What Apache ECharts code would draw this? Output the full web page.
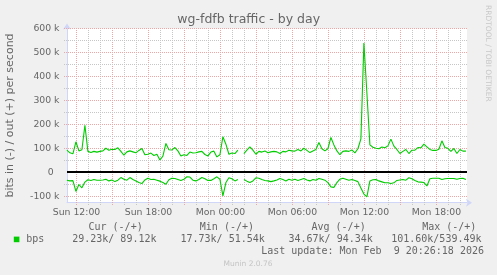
<!DOCTYPE html>
<html>
<head>
<meta charset="utf-8">
<script src="https://cdn.jsdelivr.net/npm/echarts@6/dist/echarts.min.js"></script>
<style>
html,body{margin:0;padding:0;background:#F0F0F0;}
#c{width:497px;height:275px;}
</style>
</head>
<body>
<div id="c"></div>
<script>
// ---- data (values in k bits/s) ----
const sampleStartHour = 11.2;   // hours since Sun 00:00
const sampleStepHour = 0.25;    // 15 minute samples
const outValues = [
  93, 82, 78, 128, 90, 95, 197, 88, 83, 88,
  85, 88, 90, 101, 93, 97, 96, 103, 88, 72,
  86, 90, 86, 82, 92, 100, 74, 76, 81, 71,
  76, 52, 68, 121, 95, 94, 104, 90, 69, 74,
  71, 85, 81, 82, 86, 88, 75, 69, 85, 89,
  65, 74, 149, 118, 76, 81, 79, 93, null, 79,
  93, 107, 93, 76, 88, 85, 90, 82, 86, 88,
  86, 79, 88, 86, 93, 90, 89, 96, 90, 101,
  92, 83, 90, 96, 125, 99, 90, 99, 146, 115,
  90, 74, 88, 90, 88, 94, 82, 99, 140, 539.49,
  330, 115, 105, 101, 99, 106, 103, 111, 139, 110,
  96, 79, 88, 96, 79, 93, 93, 104, 103, 118,
  107, 96, 92, 92, 97, 132, 104, 101, 88, 100,
  79, 96, 89, 89.12
];
const inValues = [
  -32, -35, -34, -79, -50, -64, -40, -30, -33, -29,
  -32, -32, -31, -28, -35, -31, -38, -32, -21, -28,
  -32, -21, -29, -35, -42, -46, -31, -24, -29, -28,
  -32, -36, -42, -49, -30, -24, -25, -29, -33, -28,
  -17.73, -19, -32, -35, -29, -21, -26, -33, -33, -26,
  -18, -28, -97, -42, -22, -26, -35, -29, null, -29,
  -36, -42, -35, -22, -24, -29, -33, -35, -38, -35,
  -31, -25, -29, -35, -28, -32, -28, -33, -29, -25,
  -31, -35, -29, -32, -25, -28, -32, -42, -60, -62,
  -42, -28, -24, -28, -32, -29, -33, -38, -65, -90,
  -101.6, -35, -30, -29, -35, -39, -43, -43, -46, -43,
  -33, -31, -29, -32, -22, -26, -33, -39, -40, -42,
  -56, -26, -24, -24, -24, -29, -26, -25, -25, -25,
  -28, -25, -24, -29.23
];
const xTickHours = [12, 18, 24, 30, 36, 42];
const xTickLabels = ['Sun 12:00', 'Sun 18:00', 'Mon 00:00', 'Mon 06:00', 'Mon 12:00', 'Mon 18:00'];
const yTickValues = [-100, 0, 100, 200, 300, 400, 500, 600];
const yTickLabels = ['-100 k', '0  ', '100 k', '200 k', '300 k', '400 k', '500 k', '600 k'];
const minorGridHours = [13,14,16,17,19,20,22,23,25,26,28,29,31,32,34,35,37,38,40,41,43,44];
const majorGridHours = [12,15,18,21,24,27,30,33,36,39,42];
const minorGridValues = [-50,50,150,250,350,450,550];
const majorGridValues = [-100,100,200,300,400,500,600];
const legendHeaders = ['Cur (-/+)', 'Min (-/+)', 'Avg (-/+)', 'Max (-/+)'];
const legendStats = ['29.23k/ 89.12k', '17.73k/ 51.54k', '34.67k/ 94.34k', '101.60k/539.49k'];
const seriesName = 'bps';
const lastUpdate = 'Last update: Mon Feb  9 20:26:18 2026';

// ---- build ----
const X_MIN = 11.2083333, X_MAX = 44.5416667;
const Y_MIN = -125.8, Y_MAX = 600;
const outData = outValues.map((v, i) => [sampleStartHour + i * sampleStepHour, v]);
const inData = inValues.map((v, i) => [sampleStartHour + i * sampleStepHour, v]);
const vGrid = minorGridHours.map(h => [h, 0, 0]).concat(majorGridHours.map(h => [h, 0, 1]));
const hGrid = minorGridValues.map(v => [X_MIN, v, 0]).concat(majorGridValues.map(v => [X_MIN, v, 1]));
const zeroLine = [[X_MIN, 0]];

const GREEN = '#00CC00';
const FONTC = '#666666';
const AXISC = '#CFD6F8';
const GRIDC = '#c6c6c6';
const MGRIDC = '#eca6a6';
const SANS = '"DejaVu Sans", sans-serif';
const MONO = '"DejaVu Sans Mono", monospace';

const legendX = [88.5, 199.8, 311.5, 422.2];
const statX = [72.2, 180.5, 288.5, 391.2];

const graphics = [
  {type: 'text', x: 248.7, y: 19.3, style: {text: 'wg-fdfb traffic - by day', font: '12.5px ' + SANS, fill: FONTC, textAlign: 'center', textVerticalAlign: 'middle'}},
  {type: 'text', x: 10.5, y: 115.5, rotation: Math.PI / 2, style: {text: 'bits in (-) / out (+) per second', font: '11px ' + SANS, fill: FONTC, textAlign: 'center', textVerticalAlign: 'middle'}},
  {type: 'text', x: 487.6, y: 53.3, rotation: -Math.PI / 2, style: {text: 'RRDTOOL / TOBI OETIKER', font: '7.5px ' + SANS, fill: '#c8c8c8', textAlign: 'center', textVerticalAlign: 'middle'}},
  {type: 'rect', shape: {x: 13.8, y: 236.6, width: 5.6, height: 5.6}, style: {fill: GREEN}},
  {type: 'text', x: 26.2, y: 239.7, style: {text: seriesName, font: '10px ' + MONO, fill: FONTC, textAlign: 'left', textVerticalAlign: 'middle'}},
  {type: 'text', x: 261.2, y: 251.5, style: {text: lastUpdate, font: '10px ' + MONO, fill: FONTC, textAlign: 'left', textVerticalAlign: 'middle'}},
  {type: 'text', x: 248, y: 264.5, style: {text: 'Munin 2.0.76', font: '7.5px ' + SANS, fill: '#c4c4c4', textAlign: 'center', textVerticalAlign: 'middle'}}
];
legendHeaders.forEach((t, i) => graphics.push({type: 'text', x: legendX[i], y: 227.7, style: {text: t, font: '10px ' + MONO, fill: FONTC, textAlign: 'left', textVerticalAlign: 'middle'}}));
legendStats.forEach((t, i) => graphics.push({type: 'text', x: statX[i], y: 239.7, style: {text: t, font: '10px ' + MONO, fill: FONTC, textAlign: 'left', textVerticalAlign: 'middle'}}));

const chart = echarts.init(document.getElementById('c'), null, {renderer: 'canvas'});
chart.setOption({
  animation: false,
  backgroundColor: '#F0F0F0',
  graphic: graphics,
  grid: {left: 67, right: 30, top: 28.5, bottom: 72.31, show: true, backgroundColor: '#FFFFFF', borderWidth: 0},
  xAxis: {
    type: 'value', min: X_MIN, max: X_MAX,
    axisLine: {show: true, onZero: false, lineStyle: {color: AXISC, width: 1}, symbol: ['none', 'arrow'], symbolSize: [6, 6], symbolOffset: [0, 5]},
    axisTick: {show: false},
    splitLine: {show: false},
    axisLabel: {
      customValues: xTickHours, margin: 5, color: FONTC, fontFamily: 'DejaVu Sans', fontSize: 9.3,
      formatter: v => xTickLabels[xTickHours.indexOf(Math.round(v))] || ''
    }
  },
  yAxis: {
    type: 'value', min: Y_MIN, max: Y_MAX,
    axisLine: {show: true, lineStyle: {color: AXISC, width: 1}, symbol: ['none', 'arrow'], symbolSize: [6, 6], symbolOffset: [0, 5]},
    axisTick: {show: false},
    splitLine: {show: false},
    axisLabel: {
      customValues: yTickValues, margin: 7.5, color: FONTC, fontFamily: 'DejaVu Sans', fontSize: 9.3,
      formatter: v => yTickLabels[yTickValues.indexOf(Math.round(v))] || ''
    }
  },
  series: [
    {
      type: 'custom', data: vGrid, z: 1, silent: true, clip: false,
      encode: {x: 0, y: 1},
      renderItem: (params, api) => {
        const cs = params.coordSys;
        const p = api.coord([api.value(0), 0]);
        const x = Math.floor(p[0]) + 0.5;
        const y1 = Math.floor(cs.y);
        const y2 = Math.ceil(cs.y + cs.height) + 2;
        return {type: 'line', shape: {x1: x, y1: y1, x2: x, y2: y2},
          style: {stroke: api.value(2) ? MGRIDC : GRIDC, lineWidth: 1, lineDash: [1, 1]}};
      }
    },
    {
      type: 'custom', data: hGrid, z: 1, silent: true, clip: false,
      encode: {x: 0, y: 1},
      renderItem: (params, api) => {
        const cs = params.coordSys;
        const p = api.coord([api.value(0), api.value(1)]);
        const y = Math.floor(p[1]) + 0.5;
        return {type: 'line', shape: {x1: Math.floor(cs.x) - 3, y1: y, x2: Math.ceil(cs.x + cs.width) + 1, y2: y},
          style: {stroke: api.value(2) ? MGRIDC : GRIDC, lineWidth: 1, lineDash: [1, 1]}};
      }
    },
    {
      type: 'custom', data: zeroLine, z: 2, silent: true, clip: false,
      renderItem: (params, api) => {
        const cs = params.coordSys;
        const p = api.coord([api.value(0), api.value(1)]);
        const y = Math.round(p[1]);
        return {type: 'line', shape: {x1: cs.x, y1: y, x2: cs.x + cs.width, y2: y},
          style: {stroke: '#000000', lineWidth: 2}};
      }
    },
    {name: 'in', type: 'line', data: inData, z: 3, showSymbol: false, connectNulls: false, lineStyle: {color: GREEN, width: 1.1}, itemStyle: {color: GREEN}},
    {name: 'out', type: 'line', data: outData, z: 3, showSymbol: false, connectNulls: false, lineStyle: {color: GREEN, width: 1.1}, itemStyle: {color: GREEN}}
  ]
});
</script>
</body>
</html>
